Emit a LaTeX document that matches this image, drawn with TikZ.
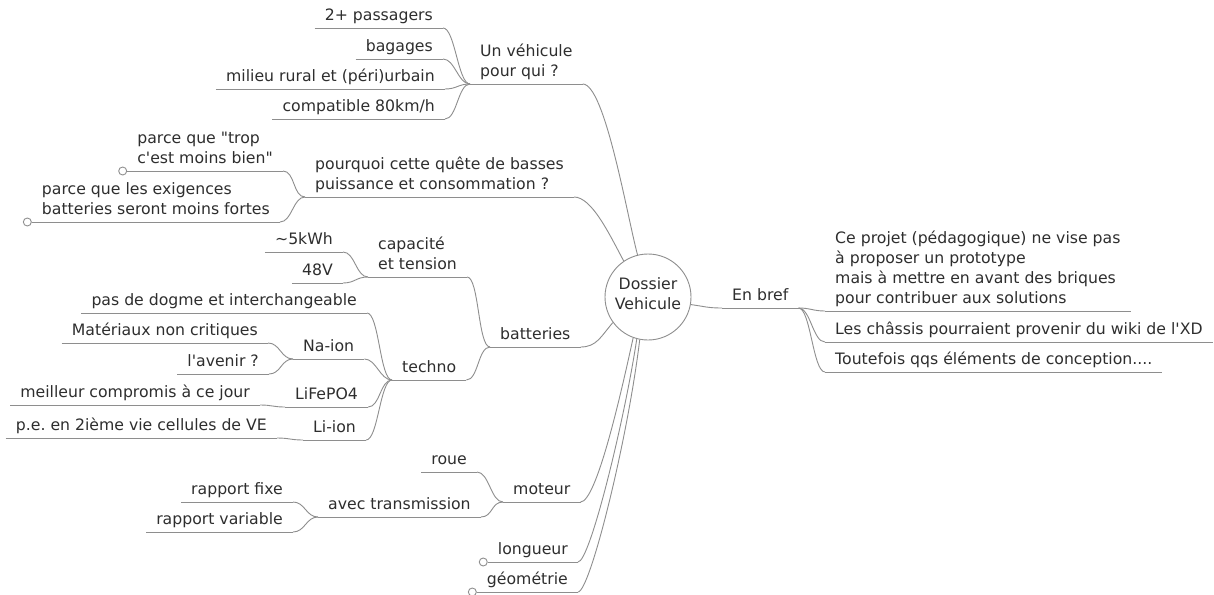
\documentclass[tikz,border=0pt]{standalone}
\usepackage{fontspec}
\newfontfamily\mapfont{DejaVu Sans}
\definecolor{txt}{HTML}{2E2E2E}
\definecolor{ln}{HTML}{8E8E8E}
\frenchspacing
\begin{document}
\begin{tikzpicture}[x=1pt,y=-1pt,
  lbl/.style={inner xsep=10pt, inner ysep=1.5pt, align=left,
    font=\mapfont\fontsize{15.7}{20}\selectfont\frenchspacing, text=txt,
    execute at begin node=\strut, execute at end node=\strut},
  ul/.style={draw=ln, line width=0.9pt},
  lk/.style={draw=ln, line width=0.9pt},
  fold/.style={circle, draw=ln, fill=white, line width=0.9pt, minimum size=8pt, inner sep=0pt},
  rootnode/.style={circle, draw=ln, fill=white, line width=0.9pt, minimum size=86pt, inner sep=0pt,
    align=center, font=\mapfont\fontsize{15.7}{20}\selectfont, text=txt,
    execute at begin node=\rule{0pt}{20pt}, execute at end node=\strut}]
\useasboundingbox[fill=white] (0,0) rectangle (1214,594);

% left leaves
\node[lbl, anchor=south east] (p2) at (443,28) {2+ passagers};
\node[lbl, anchor=south east] (bag) at (443,59) {bagages};
\node[lbl, anchor=south east] (mil) at (445,89) {milieu rural et (péri)urbain};
\node[lbl, anchor=south east] (comp) at (445,119) {compatible 80km/h};
\node[lbl, anchor=south east] (trop) at (283,171) {parce que "trop\\c'est moins bien"};
\node[lbl, anchor=south east] (exig) at (280,222) {parce que les exigences\\batteries seront moins fortes};
\node[lbl, anchor=south east] (kwh) at (343,252) {\textasciitilde5kWh};
\node[lbl, anchor=south east] (v48) at (343,283) {48V};
\node[lbl, anchor=south east] (dog) at (367,313) {pas de dogme et interchangeable};
\node[lbl, anchor=south east] (mat) at (268,343) {Matériaux non critiques};
\node[lbl, anchor=south east] (ave) at (269,374) {l'avenir ?};
\node[lbl, anchor=south east] (meil) at (260,405) {meilleur compromis à ce jour};
\node[lbl, anchor=south east] (pe) at (277,438) {p.e. en 2ième vie cellules de VE};
\node[lbl, anchor=south east] (roue) at (477,472) {roue};
\node[lbl, anchor=south east] (fixe) at (293,502) {rapport fixe};
\node[lbl, anchor=south east] (var) at (293,532) {rapport variable};
\node[lbl, anchor=south east] (long) at (578,562) {longueur};
\node[lbl, anchor=south east] (geo) at (578,592) {géométrie};

% left parents
\node[lbl, anchor=south west] (q1) at (470,84) {Un véhicule\\pour qui ?};
\node[lbl, anchor=south west] (pq) at (305,197) {pourquoi cette quête de basses\\puissance et consommation ?};
\node[lbl, anchor=south west] (cap) at (368,277) {capacité\\et tension};
\node[lbl, anchor=south west] (bat) at (490,347) {batteries};
\node[lbl, anchor=south west] (techno) at (392,380) {techno};
\node[lbl, anchor=south west] (na) at (293,359) {Na-ion};
\node[lbl, anchor=south west] (life) at (285,407) {LiFePO4};
\node[lbl, anchor=south west] (li) at (303,440) {Li-ion};
\node[lbl, anchor=south west] (mot) at (503,502) {moteur};
\node[lbl, anchor=south west] (trans) at (318,517) {avec transmission};

% right side
\node[lbl, anchor=south west] (enbref) at (722,308) {En bref};
\node[lbl, anchor=south west] (proj) at (825,311) {Ce projet (pédagogique) ne vise pas\\à proposer un prototype\\mais à mettre en avant des briques\\pour contribuer aux solutions};
\node[lbl, anchor=south west] (chas) at (825,342) {Les châssis pourraient provenir du wiki de l'XD};
\node[lbl, anchor=south west] (tout) at (825,372) {Toutefois qqs éléments de conception....};

% underlines
\foreach \n in {p2,bag,mil,comp,trop,exig,kwh,v48,dog,mat,ave,meil,pe,roue,fixe,var,long,geo,
  q1,pq,cap,bat,techno,na,life,li,mot,trans,enbref,proj,chas,tout}
  \draw[ul] (\n.south west) -- (\n.south east);

% left-side links (parent.south west -> child.south east)
\foreach \p/\c in {q1/p2,q1/bag,q1/mil,q1/comp,pq/trop,pq/exig,bat/cap,bat/techno,
  cap/kwh,cap/v48,techno/dog,techno/na,techno/life,techno/li,na/mat,na/ave,
  life/meil,li/pe,mot/roue,mot/trans,trans/fixe,trans/var}
  \draw[lk] (\p.south west) .. controls +(-12,0) and +(12,0) .. (\c.south east);

% right-side links
\foreach \c in {proj,chas,tout}
  \draw[lk] (enbref.south east) .. controls +(12,0) and +(-12,0) .. (\c.south west);

% root
\node[rootnode] (root) at (648,297) {Dossier\\Vehicule};
\draw[lk] (q1.south east) .. controls +(22,0) and +(-11,-42) .. (root.104);
\draw[lk] (pq.south east) .. controls +(18,0) and +(-14,-26) .. (root.124);
\draw[lk] (bat.south east) .. controls +(16,0) and +(-12,14) .. (root.216);
\draw[lk] (mot.south east) .. controls +(16,0) and +(-12,55) .. (root.250);
\draw[lk] (long.south east) .. controls +(12,0) and +(-12,80) .. (root.255);
\draw[lk] (geo.south east) .. controls +(12,0) and +(-12,100) .. (root.259);
\draw[lk] (root.-10) .. controls +(14,2) and +(-14,0) .. (enbref.south west);

% folded markers
\node[fold, anchor=east] (f1) at (trop.south west) {};
\node[fold, anchor=east] (f2) at (exig.south west) {};
\node[fold, anchor=east] (f3) at (long.south west) {};
\node[fold, anchor=east] (f4) at (geo.south west) {};
\end{tikzpicture}
\end{document}
